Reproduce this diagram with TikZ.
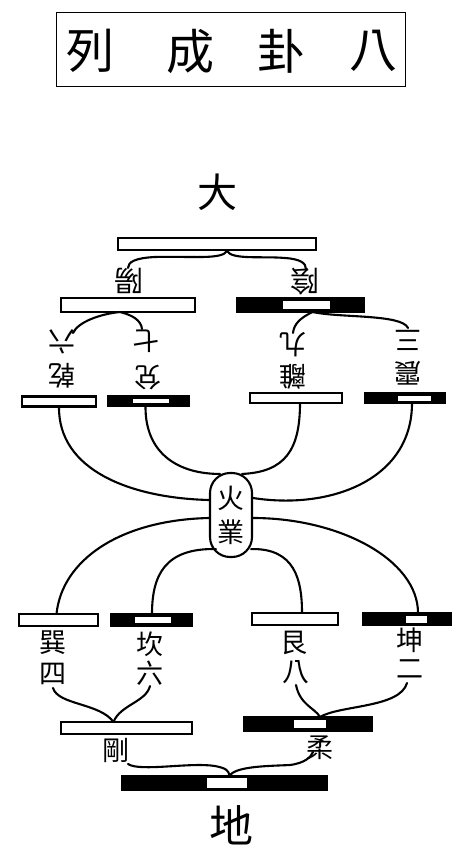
\documentclass[tikz,border=0pt]{standalone}
\usepackage{fontspec}
\newfontfamily\cjk{Noto Sans CJK TC}
\usetikzlibrary{calc}
\begin{document}
\begin{tikzpicture}[x=1pt,y=-1pt,
  wbar/.style={draw=black, line width=2.1pt, fill=white, inner sep=0pt, outer sep=0pt},
  bbar/.style={draw=black, line width=2.1pt, fill=black, inner sep=0pt, outer sep=0pt},
  gapbox/.style={fill=white, inner sep=0pt, outer sep=0pt},
  lbl/.style={font=\cjk\fontsize{27}{27}\selectfont, inner sep=0pt},
  ulbl/.style={lbl, rotate=180},
  link/.style={line width=2.1pt, line cap=round}]
\useasboundingbox (0,0) rectangle (458,850);

% title
\node[draw, line width=1.5pt, minimum width=349pt, minimum height=74pt, inner sep=0pt] (title) at (231,49.5) {};
\node[lbl, font=\cjk\fontsize{48}{48}\selectfont] (t1) at (90,51) {列};
\node[lbl, font=\cjk\fontsize{48}{48}\selectfont] (t2) at (190,51) {成};
\node[lbl, font=\cjk\fontsize{48}{48}\selectfont] (t3) at (281,51) {卦};
\node[lbl, font=\cjk\fontsize{48}{48}\selectfont] (t4) at (373,51) {八};

% heaven
\node[lbl, font=\cjk\fontsize{40}{40}\selectfont] (tian) at (217,192) {大};
\node[wbar, minimum width=198pt, minimum height=12pt] (T) at (217,244) {};

% yang / yin labels
\node[ulbl, font=\cjk\fontsize{29}{29}\selectfont] (yang) at (129,281) {陽};
\node[ulbl, font=\cjk\fontsize{29}{29}\selectfont] (yin) at (305,282) {陰};

\draw[link] ($(T.south)+(10,1)$) .. controls (222,260) and (190,256) .. (155,257)
  .. controls (135,258) and (128,262) .. ($(yang.center)+(-1,-13)$);
\draw[link] ($(T.south)+(10,1)$) .. controls (232,260) and (262,256) .. (285,258)
  .. controls (300,259) and (306,263) .. ($(yin.center)+(1,-13)$);

% level 2 bars
\node[wbar, minimum width=134pt, minimum height=14pt] (Y) at (128,305) {};
\node[bbar, minimum width=127pt, minimum height=14pt] (N) at (300.5,305) {};
\node[gapbox, minimum width=47pt, minimum height=8pt] (Ng) at (306.5,305) {};

% level 3 labels (upside down)
\node[ulbl] (qian) at (62,376) {乾};
\node[ulbl] (qian6) at (62,342) {六};
\node[ulbl] (dui) at (148,378) {兌};
\node[ulbl] (dui7) at (146,341) {七};
\node[ulbl] (li) at (293,377) {離};
\node[ulbl] (li9) at (293,345) {九};
\node[ulbl] (zhen) at (408,373) {震};
\node[ulbl] (zhen3) at (408,340) {三};

\draw[link] ($(Y.south)+(-8,0)$) .. controls (100,314) and (78,322) .. ($(qian6.center)+(11,-9)$);
\draw[link] ($(Y.south)+(-8,0)$) .. controls (132,315) and (141,320) .. ($(dui7.center)+(-4,-12)$);
\draw[link] ($(N.south)+(12,0)$) .. controls (300,318) and (294,324) .. ($(li9.center)+(0,-12)$);
\draw[link] ($(N.south)+(12,0)$) .. controls (340,318) and (402,314) .. ($(zhen3.center)+(0,-12)$);

% level 3 bars
\node[wbar, minimum width=74pt, minimum height=10pt] (A) at (59,401.5) {};
\node[bbar, minimum width=81pt, minimum height=10pt] (B) at (148.5,401) {};
\node[gapbox, minimum width=36pt, minimum height=4pt] (Bg) at (151,401) {};
\node[wbar, minimum width=92pt, minimum height=10pt] (C) at (296,398) {};
\node[bbar, minimum width=80pt, minimum height=10pt] (D) at (405,398) {};
\node[gapbox, minimum width=33pt, minimum height=5pt] (Dg) at (414.5,398) {};

% centre node
\node[draw, line width=2.1pt, rounded corners=20pt, minimum width=42pt, minimum height=84pt,
  inner sep=0pt, align=center, font=\cjk\fontsize{27}{34}\selectfont] (F) at (231,515) {火\\業};

\draw[link] (A.south) .. controls (58,470) and (130,498) .. ($(F.west)+(0,-15)$);
\draw[link] ($(B.south)+(-3,0)$) .. controls (145,455) and (180,474) .. ($(F.north)+(-11,2)$);
\draw[link] ($(F.north)+(11,2)$) .. controls (285,472) and (300,450) .. ($(C.south)+(4,0)$);
\draw[link] ($(F.east)+(0,-17)$) .. controls (330,510) and (412,480) .. ($(D.south)+(7,0)$);

% level 4 bars
\node[wbar, minimum width=79pt, minimum height=12pt] (E) at (58.5,620) {};
\node[bbar, minimum width=81pt, minimum height=12pt] (Fk) at (151.5,620) {};
\node[gapbox, minimum width=36pt, minimum height=6pt] (Fkg) at (153,619.5) {};
\node[wbar, minimum width=86pt, minimum height=12pt] (G) at (295,619) {};
\node[bbar, minimum width=88pt, minimum height=12pt] (K4) at (407,619) {};
\node[gapbox, minimum width=21pt, minimum height=7pt] (K4g) at (416.5,619) {};

\draw[link] ($(F.west)+(0,3)$) .. controls (120,520) and (62,560) .. ($(E.north)+(-2,0)$);
\draw[link] ($(F.east)+(0,3)$) .. controls (340,518) and (418,560) .. ($(K4.north)+(11,0)$);
\draw[link] ($(F.south)+(-15,-9)$) .. controls (165,548) and (152,575) .. ($(Fk.north)+(0.5,0)$);
\draw[link] ($(F.south)+(20,-9)$) .. controls (295,548) and (302,580) .. ($(G.north)+(7,0)$);

% level 4 labels
\node[lbl] (xun) at (53,643) {巽};
\node[lbl] (si) at (53,674) {四};
\node[lbl] (kan) at (150,644) {坎};
\node[lbl] (liu) at (150,673) {六};
\node[lbl] (gen) at (294,643) {艮};
\node[lbl] (ba) at (296,672) {八};
\node[lbl] (kun) at (410,640) {坤};
\node[lbl] (er) at (410,669) {二};

% level 5 bars
\node[wbar, minimum width=131pt, minimum height=12pt] (I) at (126.5,728) {};
\node[bbar, minimum width=128pt, minimum height=14pt] (J) at (308,724) {};
\node[gapbox, minimum width=32pt, minimum height=8pt] (Jg) at (310,724) {};

\draw[link] ($(si.center)+(0,14)$) .. controls (58,705) and (100,703) .. ($(I.north)+(-13,0)$);
\draw[link] ($(liu.center)+(0,13)$) .. controls (146,702) and (120,705) .. ($(I.north)+(-13,0)$);
\draw[link] ($(ba.center)+(0,13)$) .. controls (300,705) and (315,708) .. ($(J.north)+(12,0)$);
\draw[link] ($(er.center)+(-3,14)$) .. controls (400,708) and (340,705) .. ($(J.north)+(12,0)$);

% level 5 labels
\node[lbl] (gang) at (116,750) {剛};
\node[lbl] (rou) at (320,748) {柔};

% earth bar
\node[bbar, minimum width=205pt, minimum height=14pt] (K) at (224.5,783) {};
\node[gapbox, minimum width=40pt, minimum height=10pt] (Kg) at (227,783) {};

\draw[link] ($(gang.center)+(12,14)$) .. controls (140,772) and (190,762) .. (215,766)
  .. controls (225,768) and (229,770) .. ($(K.north)+(5,0)$);
\draw[link] ($(K.north)+(5,0)$) .. controls (235,766) and (270,766) .. (290,765)
  .. controls (305,763) and (311,757) .. ($(rou.center)+(-7,4)$);

\node[lbl, font=\cjk\fontsize{44}{44}\selectfont] (di) at (231,825) {地};
\end{tikzpicture}
\end{document}
